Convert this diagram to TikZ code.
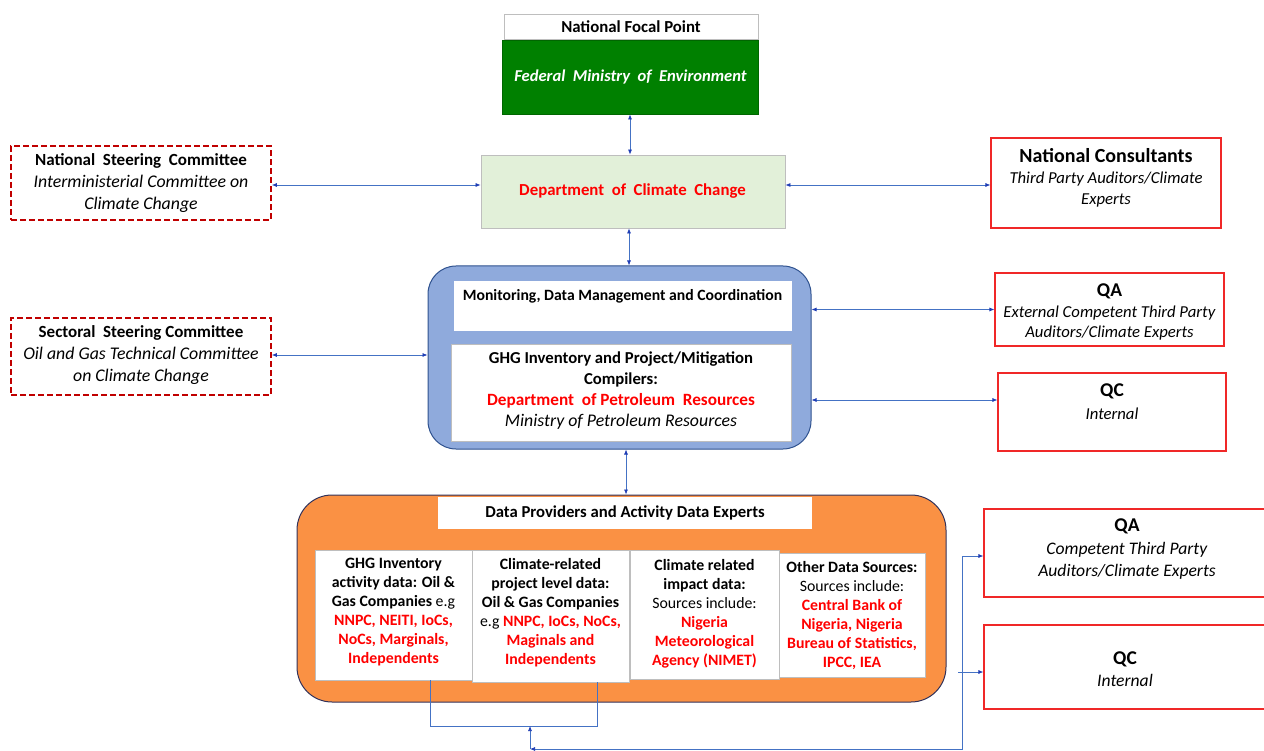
\documentclass[tikz,border=0pt]{standalone}
\usepackage{fontspec}
\setmainfont{Carlito}
\usetikzlibrary{arrows.meta}
\definecolor{fgreen}{RGB}{0,128,0}
\definecolor{lgreen}{RGB}{226,240,217}
\definecolor{tred}{RGB}{255,0,0}
\definecolor{dred}{RGB}{192,0,0}
\definecolor{bred}{RGB}{240,40,40}
\definecolor{lblue}{RGB}{68,114,196}
\definecolor{tblue}{RGB}{30,60,180}
\definecolor{bfill}{RGB}{143,170,220}
\definecolor{bdraw}{RGB}{47,82,143}
\definecolor{ofill}{RGB}{250,145,68}
\definecolor{odraw}{RGB}{50,50,90}
\definecolor{gborder}{RGB}{190,190,190}
\begin{document}
\begin{tikzpicture}[x=1pt,y=-1pt,
  box/.style={rectangle, inner sep=0pt, line width=0.8pt},
  whitebox/.style={box, fill=white, draw=gborder},
  redbox/.style={box, fill=white, draw=bred, line width=1.1pt},
  dashbox/.style={box, fill=white, draw=dred, dash pattern=on 6pt off 3pt, line width=1.6pt},
  txt/.style={align=center, inner sep=0pt},
  conn/.style={draw=lblue, line width=0.7pt, {Latex[length=5pt,width=4pt,color=tblue]}-{Latex[length=5pt,width=4pt,color=tblue]}},
  wire/.style={draw=lblue, line width=0.7pt},
  dfont/.style={font=\fontsize{15.8}{19}\selectfont},
]
\useasboundingbox (0,0) rectangle (1264,751);

% top
\node[whitebox, minimum width=254pt, minimum height=25pt] (nfp) at (631,26.5) {};
\node[txt, font=\fontsize{16.8}{19}\selectfont\bfseries] (nfpt) at (631,26.5) {National Focal Point};
\node[box, fill=fgreen, draw=fgreen!80!black, minimum width=256pt, minimum height=74pt] (fme) at (630,77) {};
\node[txt, text=white, font=\fontsize{16.6}{19}\selectfont\bfseries\itshape] (fmet) at (630.5,77) {Federal\ \ Ministry\ \ of\ \ Environment};
\node[box, fill=lgreen, draw=gborder, minimum width=304pt, minimum height=73pt] (dcc) at (633,191.5) {};
\node[txt, text=tred, font=\fontsize{16.8}{19}\selectfont\bfseries] (dcct) at (632.5,191.5) {Department\ \ of\ \ Climate\ \ Change};

% blue container
\node[box, fill=bfill, draw=bdraw, line width=1pt, rounded corners=28pt, minimum width=383pt, minimum height=183pt] (blue) at (619.5,357.5) {};
\node[whitebox, draw=white, minimum width=337pt, minimum height=49pt] (mon) at (622.5,305.5) {};
\node[txt, font=\fontsize{15.7}{18}\selectfont\bfseries] (mont) at (622.5,296) {Monitoring, Data Management and Coordination};
\node[whitebox, minimum width=340pt, minimum height=97pt] (ghg) at (621,392.5) {};
\node[txt, font=\fontsize{16.7}{21}\selectfont] (ghgt) at (621,391) {\textbf{GHG Inventory and Project/Mitigation}\\\textbf{Compilers:}\\{\fontsize{17.2}{21}\selectfont\textcolor{tred}{\bfseries Department\ \ of Petroleum\ \ Resources}}\\{\fontsize{17.8}{21}\selectfont\itshape Ministry of Petroleum Resources}};

% orange container
\node[box, fill=ofill, draw=odraw, line width=1pt, rounded corners=35pt, minimum width=649pt, minimum height=207pt] (orange) at (621.5,598.5) {};
\node[whitebox, draw=white, minimum width=373pt, minimum height=31pt] (dp) at (624.5,512.5) {};
\node[txt, font=\fontsize{16.7}{19}\selectfont\bfseries] (dpt) at (625,512.5) {Data Providers and Activity Data Experts};

\node[whitebox, minimum width=157pt, minimum height=130pt] (b1) at (393.5,615) {};
\node[whitebox, minimum width=157pt, minimum height=132pt] (b2) at (550.5,616) {};
\node[whitebox, minimum width=149pt, minimum height=129pt] (b3) at (704.5,614.5) {};
\node[whitebox, minimum width=146pt, minimum height=124pt] (b4) at (852,615) {};
\node[txt, dfont] (b1t) at (393.5,612.5) {\textbf{GHG Inventory}\\\textbf{activity data: Oil \&}\\\textbf{Gas Companies} e.g\\\textcolor{tred}{\bfseries NNPC, NEITI, IoCs,}\\\textcolor{tred}{\bfseries NoCs, Marginals,}\\\textcolor{tred}{\bfseries Independents}};
\node[txt, dfont] (b2t) at (550.5,612.5) {\textbf{Climate-related}\\\textbf{project level data:}\\\textbf{Oil \& Gas Companies}\\e.g \textcolor{tred}{\bfseries NNPC, IoCs, NoCs,}\\\textcolor{tred}{\bfseries Maginals and}\\\textcolor{tred}{\bfseries Independents}};
\node[txt, dfont] (b3t) at (704.5,614) {\textbf{Climate related}\\\textbf{impact data:}\\Sources include:\\\textcolor{tred}{\bfseries Nigeria}\\\textcolor{tred}{\bfseries Meteorological}\\\textcolor{tred}{\bfseries Agency (NIMET)}};
\node[txt, dfont] (b4t) at (852,616) {\textbf{Other Data Sources:}\\Sources include:\\\textcolor{tred}{\bfseries Central Bank of}\\\textcolor{tred}{\bfseries Nigeria, Nigeria}\\\textcolor{tred}{\bfseries Bureau of Statistics,}\\\textcolor{tred}{\bfseries IPCC, IEA}};

% left boxes
\node[dashbox, minimum width=260pt, minimum height=74pt] (nsc) at (141,183) {};
\node[txt, font=\fontsize{17.8}{21.7}\selectfont] (nsct) at (141,183) {{\fontsize{17}{21.7}\selectfont\bfseries National\ \ Steering\ \ Committee}\\\textit{Interministerial Committee on}\\\textit{Climate Change}};
\node[dashbox, minimum width=260pt, minimum height=77pt] (ssc) at (141,356.5) {};
\node[txt, font=\fontsize{17.8}{21.7}\selectfont] (ssct) at (141,355) {{\fontsize{17}{21.7}\selectfont\bfseries Sectoral\ \ Steering Committee}\\\textit{Oil and Gas Technical Committee}\\\textit{on Climate Change}};

% right boxes
\node[redbox, minimum width=230pt, minimum height=90pt] (nc) at (1106,183) {};
\node[txt, font=\fontsize{16.7}{21}\selectfont] (nct) at (1106,178) {{\fontsize{20}{21}\selectfont\bfseries National Consultants}\\\textit{Third Party Auditors/Climate}\\\textit{Experts}};
\node[redbox, minimum width=229pt, minimum height=73pt] (qa1) at (1109.5,309.5) {};
\node[txt, font=\fontsize{16.7}{20.5}\selectfont] (qa1t) at (1109.5,312) {{\fontsize{19.5}{20.5}\selectfont\bfseries QA}\\\textit{External Competent Third Party}\\\textit{Auditors/Climate Experts}};
\node[redbox, minimum width=228pt, minimum height=78pt] (qc1) at (1112,412) {};
\node[txt, font=\fontsize{16.7}{23}\selectfont] (qc1t) at (1112,401.5) {{\fontsize{19.5}{23}\selectfont\bfseries QC}\\\textit{Internal}};
\node[redbox, minimum width=282pt, minimum height=88pt] (qa2) at (1125,553) {};
\node[txt, font=\fontsize{17.6}{22.5}\selectfont] (qa2t) at (1127,549.5) {{\fontsize{19.5}{22.5}\selectfont\bfseries QA}\\\textit{Competent Third Party}\\\textit{Auditors/Climate Experts}};
\node[redbox, minimum width=282pt, minimum height=84pt] (qc2) at (1125,667) {};
\node[txt, font=\fontsize{17.6}{22}\selectfont] (qc2t) at (1125,669) {{\fontsize{19.5}{22}\selectfont\bfseries QC}\\\textit{Internal}};

% connectors
\draw[conn] (fme.south) -- ([xshift=-3pt]dcc.north);
\draw[conn] ([xshift=-4pt]dcc.south) -- ([xshift=9.5pt]blue.north);
\draw[conn] ([xshift=6.5pt]blue.south) -- ([xshift=4.5pt]orange.north);
\draw[conn] ([yshift=-2pt]nsc.east) -- ([yshift=-2pt]nsc.east -| dcc.west);
\draw[conn] ([yshift=-2pt]nc.west -| dcc.east) -- ([yshift=-2pt]nc.west);
\draw[conn] ([yshift=1.5pt]ssc.east) -- ([yshift=1.5pt]ssc.east -| blue.west);
\draw[conn] (qa1.west -| blue.east) -- (qa1.west);
\draw[conn] ([yshift=12pt]qc1.west -| blue.east) -- ([yshift=12pt]qc1.west);

\coordinate (j) at (530,726);
\coordinate (c) at (530,749);
\coordinate (v) at (962,749);
\coordinate (qa2in) at ([yshift=-3pt]qa2.west);
\coordinate (qc2in) at ([yshift=-5pt]qc2.west);
\coordinate (b1out) at ([xshift=36.5pt]b1.south);
\coordinate (b2out) at ([xshift=46.5pt]b2.south);
\draw[wire] (b1out) -- (b1out |- j) -- (b2out |- j) -- (b2out);
\draw[wire, -{Latex[length=5pt,width=4pt,color=tblue]}] (c) -- (j);
\draw[wire, {Latex[length=5pt,width=4pt,color=tblue]}-{Latex[length=5pt,width=4pt,color=tblue]}] (c) -- (v) -- (v |- qa2in) -- (qa2in);
\draw[wire, -{Latex[length=5pt,width=4pt,color=tblue]}] ([xshift=-4pt]v |- qc2in) -- (qc2in);
\end{tikzpicture}
\end{document}
